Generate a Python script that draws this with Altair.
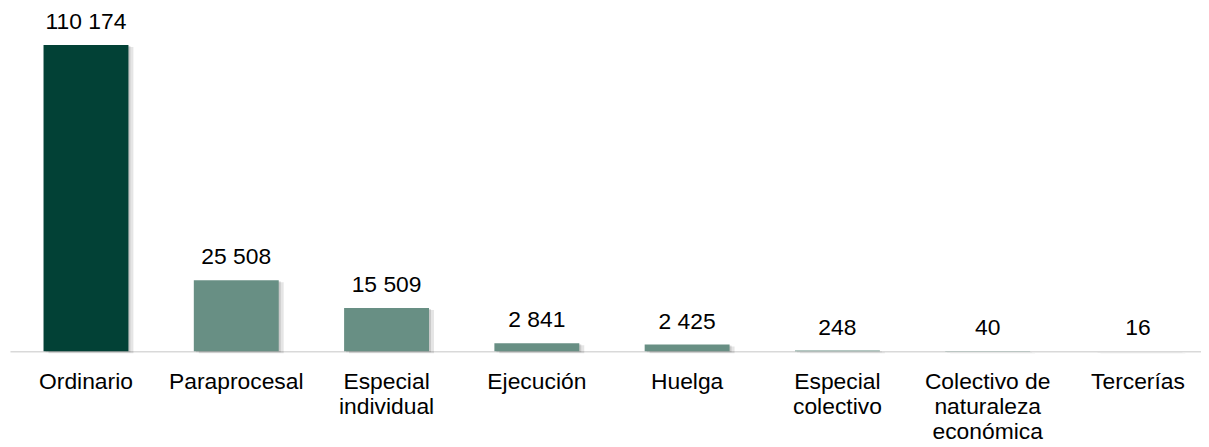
import altair as alt
import pandas as pd

categories = ["Ordinario", "Paraprocesal", "Especial|individual", "Ejecución", "Huelga",
              "Especial|colectivo", "Colectivo de|naturaleza|económica", "Tercerías"]
values = [110174, 25508, 15509, 2841, 2425, 248, 40, 16]
highlight = ["main", "other", "other", "other", "other", "other", "other", "other"]

df = pd.DataFrame({
    "cat": categories,
    "val": values,
    "grp": highlight,
    "lab": [f"{v:,}".replace(",", " ") for v in values],
})

FONT = "Liberation Sans"
FS = 23

xenc = alt.X("cat:N", sort=None, title=None,
             scale=alt.Scale(paddingInner=0.435, paddingOuter=0.18, align=0.62),
             axis=alt.Axis(labelExpr="split(datum.label, '|')", labelAngle=0,
                           labelFont=FONT, labelFontSize=FS, labelColor="#000000",
                           labelLineHeight=25, labelPadding=20, ticks=False,
                           domainColor="#d9d9d9", domainWidth=1.5, grid=False))
yenc = alt.Y("val:Q", title=None, axis=None,
             scale=alt.Scale(domain=[0, 123000], nice=False))

base = alt.Chart(df)

shadow1 = base.mark_bar(color="#000000", opacity=0.10, xOffset=5, yOffset=2).encode(x=xenc, y=yenc)
shadow2 = base.mark_bar(color="#000000", opacity=0.12, xOffset=2, yOffset=1).encode(x=xenc, y=yenc)

bars = base.mark_bar().encode(
    x=xenc, y=yenc,
    color=alt.Color("grp:N", legend=None,
                    scale=alt.Scale(domain=["main", "other"], range=["#024136", "#688f84"])),
)

text = base.mark_text(baseline="middle", dy=-23, font=FONT, fontSize=FS, color="#000000").encode(
    x=xenc, y=yenc, text="lab:N")

chart = alt.layer(shadow1, shadow2, bars, text).properties(
    width=1199, height=344,
    autosize=alt.AutoSizeParams(type="none"),
    padding={"left": 2, "top": 0, "right": 0, "bottom": 95},
).configure_view(stroke=None)

chart.save("out.html", embed_options={"renderer": "svg", "actions": False})
